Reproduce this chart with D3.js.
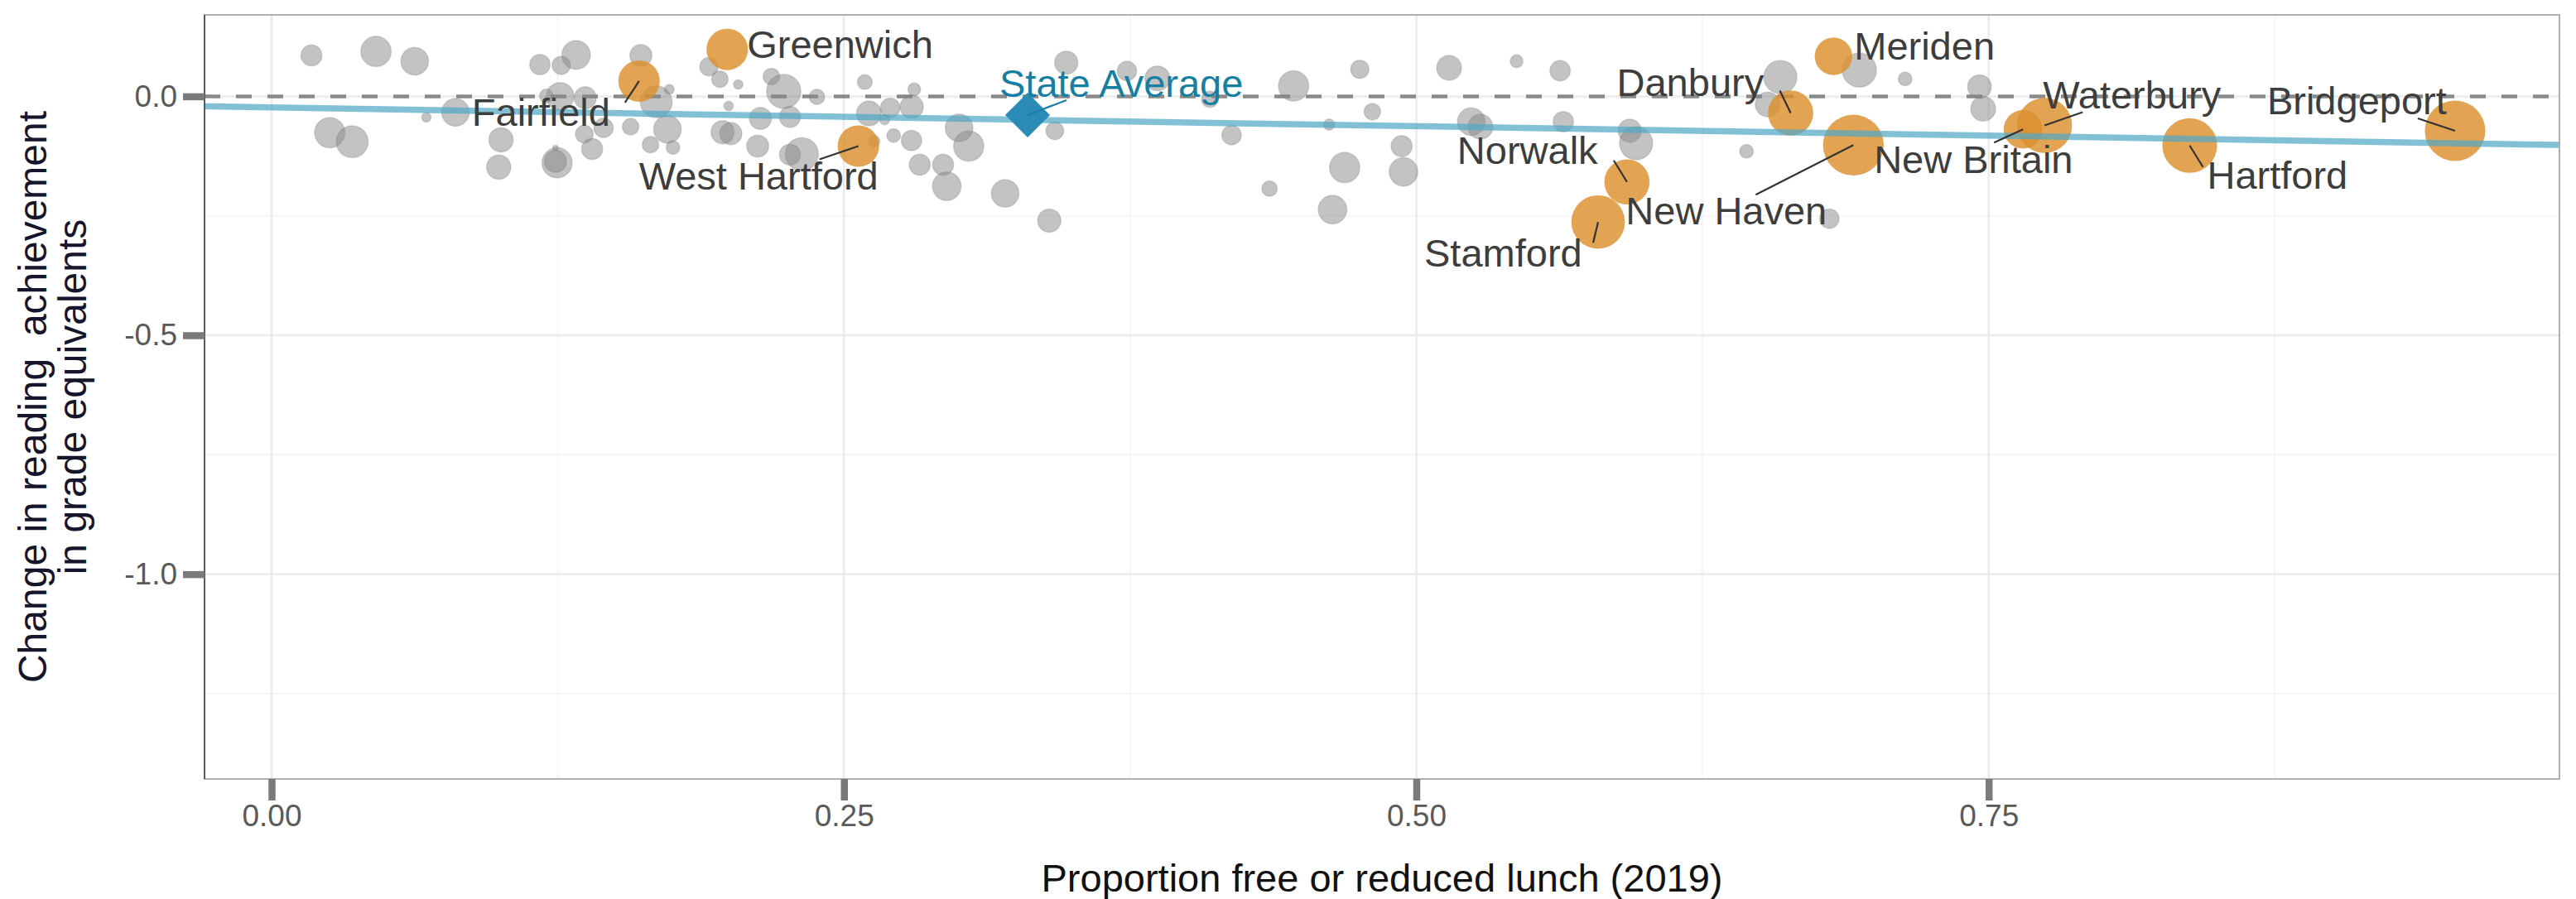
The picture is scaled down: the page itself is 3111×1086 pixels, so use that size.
<!DOCTYPE html>
<html>
<head>
<meta charset="utf-8">
<script src="https://cdn.jsdelivr.net/npm/d3@7"></script>
<style>
  body { margin: 0; background: #fff; }
  svg { display: block; font-family: "Liberation Sans", Arial, sans-serif; }
</style>
</head>
<body>
<script>
// ---- data ----
const xTicks = [0, 0.25, 0.5, 0.75];
const xMinor = [0.125, 0.375, 0.625, 0.875];
const yTicks = [-1.0, -0.5, 0.0];
const yMinor = [-1.25, -0.75, -0.25];

// other districts (grey): proportion FRL, change in reading GE, enrolment size
const grayX = [0.0174, 0.0456, 0.0625, 0.0254, 0.0352, 0.0676, 0.0803, 0.1002, 0.0992, 0.1172,
  0.1265, 0.133, 0.126, 0.120, 0.137, 0.1247, 0.124, 0.124, 0.1366, 0.14,
  0.1613, 0.168, 0.1737, 0.145, 0.1568, 0.1729, 0.1655, 0.1753, 0.191, 0.1958,
  0.2038, 0.1996, 0.197, 0.2006, 0.2135, 0.2123, 0.2183, 0.2237, 0.2264, 0.2316,
  0.2264, 0.2382, 0.2633, 0.2591, 0.2609, 0.2702, 0.2678, 0.2807, 0.2796, 0.2717,
  0.2795, 0.2831, 0.2933, 0.2949, 0.3003, 0.3045, 0.3471, 0.3421, 0.3204, 0.3397,
  0.3736, 0.3869, 0.4098, 0.4193, 0.4464, 0.4619, 0.4359, 0.4687, 0.4634, 0.4753,
  0.5143, 0.5438, 0.5628, 0.4808, 0.4936, 0.4944, 0.524, 0.528, 0.5642, 0.5932,
  0.596, 0.659, 0.6535, 0.6442, 0.6935, 0.7135, 0.746, 0.7476, 0.6804];
const grayY = [0.0856, 0.094, 0.0735, -0.076, -0.095, -0.044, -0.0335, -0.091, -0.148, 0.0665,
  0.065, 0.0867, 0.0, 0.001, -0.003, -0.139, -0.136, -0.108, -0.079, -0.11,
  0.0856, -0.0115, 0.0145, -0.066, -0.0635, -0.069, -0.101, -0.107, 0.062, 0.036,
  0.025, -0.020, -0.075, -0.078, -0.046, -0.104, 0.0416, 0.0104, -0.043, -0.121,
  -0.122, -0.001, -0.0936, 0.030, -0.0357, -0.024, -0.049, 0.0145, -0.022, -0.082,
  -0.0924, -0.143, -0.143, -0.188, -0.066, -0.104, 0.0705, -0.072, -0.203, -0.26,
  0.053, 0.0376, -0.006, -0.081, 0.022, -0.059, -0.193, -0.149, -0.237, 0.0567,
  0.0596, 0.0735, 0.0537, -0.032, -0.104, -0.158, -0.053, -0.0635, -0.053, -0.072,
  -0.098, 0.0405, -0.017, -0.115, 0.055, 0.0364, 0.0203, -0.026, -0.256];
const graySize = [2.42, 5.03, 4.19, 5.03, 5.59, 0.49, 4.19, 3.24, 3.24, 2.27,
  1.82, 4.49, 4.19, 1.03, 2.66, 5.03, 2.66, 0.16, 1.72, 2.42,
  2.66, 5.59, 0.54, 2.06, 1.50, 4.19, 1.50, 1.03, 1.82, 1.50,
  0.49, 0.49, 2.94, 2.66, 2.66, 2.66, 1.50, 6.43, 2.42, 6.01,
  2.42, 1.30, 0.67, 1.22, 3.38, 2.06, 0.54, 0.89, 2.94, 1.03,
  2.27, 2.42, 2.42, 4.49, 4.19, 5.03, 2.94, 1.72, 4.19, 2.94,
  2.06, 3.38, 1.50, 2.06, 5.03, 0.67, 1.30, 5.03, 4.49, 1.82,
  3.38, 0.89, 2.27, 1.50, 2.42, 4.49, 4.19, 3.38, 2.27, 2.94,
  6.01, 6.01, 3.38, 1.03, 6.43, 1.03, 3.07, 3.38, 2.06];

// highlighted districts (orange)
const townNames = ["Fairfield", "Greenwich", "West Hartford", "Norwalk", "Stamford", "New Haven",
  "Danbury", "Meriden", "New Britain", "Waterbury", "Hartford", "Bridgeport"];
const townX = [0.1605, 0.1990, 0.2563, 0.592, 0.5794, 0.6909, 0.6635, 0.6822, 0.765, 0.7744, 0.8378, 0.9537];
const townY = [0.032, 0.0983, -0.104, -0.179, -0.263, -0.102, -0.0347, 0.0839, -0.069, -0.0607, -0.1028, -0.072];
const townSize = [9.4, 9.4, 9.4, 11.2, 15.7, 20.2, 11.2, 7.7, 8.2, 16.6, 16.4, 20.0];

const avgName = "State Average";
const avgX = 0.3302;
const avgY = -0.039;

// fitted line
const trendX = [-0.0293, 0.9993];
const trendY = [-0.0209, -0.1017];

// ---- layout ----
const width = 3111, height = 1086;
const panel = { left: 247, right: 3091, top: 18, bottom: 941 };
const labelFont = 47;

// label placement (pixel offsets from the point): [label dx, label dy, segment dx, segment dy]
const labelLayout = {
  "Fairfield":     [-202, 54, -17, 26],
  "Greenwich":     [24, 10, null, null],
  "West Hartford": [-265, 53, -47, 16],
  "Norwalk":       [-205, -22, -16, -26],
  "Stamford":      [-210, 54, -6, 25],
  "New Haven":     [-275, 96, -118, 60],
  "Danbury":       [-210, -20, -13, -27],
  "Meriden":       [25, 4, null, null],
  "New Britain":   [-180, 53, -35, 16],
  "Waterbury":     [-2, -20, 46, -16],
  "Hartford":      [21, 52, 16, 26],
  "Bridgeport":    [-227, -20, -45, -15],
  "State Average": [-34, -22, 47, -18]
};

const x = d3.scaleLinear().domain([-0.0293, 0.9993]).range([panel.left, panel.right]);
const y = d3.scaleLinear().domain([-1.4286, 0.1705]).range([panel.bottom, panel.top]);
const r = d3.scaleSqrt().domain([0, 20]).range([0, 36.5]);

const svg = d3.select("body").append("svg")
  .attr("width", width)
  .attr("height", height);

// grid
const grid = svg.append("g");
grid.selectAll(".vminor").data(xMinor).enter().append("line")
  .attr("x1", d => x(d)).attr("x2", d => x(d))
  .attr("y1", panel.top).attr("y2", panel.bottom)
  .attr("stroke", "#f3f3f3").attr("stroke-width", 1.5);
grid.selectAll(".hminor").data(yMinor).enter().append("line")
  .attr("x1", panel.left).attr("x2", panel.right)
  .attr("y1", d => y(d)).attr("y2", d => y(d))
  .attr("stroke", "#f3f3f3").attr("stroke-width", 1.5);
grid.selectAll(".vmajor").data(xTicks).enter().append("line")
  .attr("x1", d => x(d)).attr("x2", d => x(d))
  .attr("y1", panel.top).attr("y2", panel.bottom)
  .attr("stroke", "#ebebeb").attr("stroke-width", 2.5);
grid.selectAll(".hmajor").data(yTicks).enter().append("line")
  .attr("x1", panel.left).attr("x2", panel.right)
  .attr("y1", d => y(d)).attr("y2", d => y(d))
  .attr("stroke", "#ebebeb").attr("stroke-width", 2.5);

// zero reference
svg.append("line")
  .attr("x1", panel.left).attr("x2", panel.right)
  .attr("y1", y(0)).attr("y2", y(0))
  .attr("stroke", "#8a8a8a").attr("stroke-width", 4.5)
  .attr("stroke-dasharray", "19,19");

// grey districts
const grayData = grayX.map((d, i) => ({ x: d, y: grayY[i], s: graySize[i] }));
svg.append("g").selectAll("circle").data(grayData).enter().append("circle")
  .attr("cx", d => x(d.x)).attr("cy", d => y(d.y)).attr("r", d => r(d.s))
  .attr("fill", "#888").attr("fill-opacity", 0.5)
  .attr("stroke", "#777").attr("stroke-opacity", 0.25).attr("stroke-width", 1.5);

// highlighted districts
const towns = townNames.map((n, i) => ({ name: n, x: townX[i], y: townY[i], s: townSize[i] }));
svg.append("g").selectAll("circle").data(towns).enter().append("circle")
  .attr("cx", d => x(d.x)).attr("cy", d => y(d.y)).attr("r", d => r(d.s))
  .attr("fill", "#dc8f2c").attr("fill-opacity", 0.82);

// fitted line
const trend = trendX.map((d, i) => [d, trendY[i]]);
svg.append("path")
  .datum(trend)
  .attr("d", d3.line().x(d => x(d[0])).y(d => y(d[1])))
  .attr("fill", "none")
  .attr("stroke", "#52a8c6").attr("stroke-opacity", 0.72)
  .attr("stroke-width", 7.5);

// state average
svg.append("path")
  .attr("d", d3.symbol().type(d3.symbolSquare).size(1460))
  .attr("transform", "translate(" + x(avgX) + "," + y(avgY) + ") rotate(45)")
  .attr("fill", "#2a8bb6");

// segments and labels
const labelled = towns.map(d => ({ name: d.name, px: x(d.x), py: y(d.y), colour: "#3d3d3d" }));
labelled.push({ name: avgName, px: x(avgX), py: y(avgY), colour: "#167ea2" });

svg.append("g").selectAll("line").data(labelled.filter(d => labelLayout[d.name][2] !== null))
  .enter().append("line")
  .attr("x1", d => d.px + labelLayout[d.name][2])
  .attr("y1", d => d.py + labelLayout[d.name][3])
  .attr("x2", d => d.px).attr("y2", d => d.py)
  .attr("stroke", d => d.name === avgName ? "#167ea2" : "#333")
  .attr("stroke-width", 2.2);

svg.append("g").selectAll("text").data(labelled).enter().append("text")
  .attr("x", d => d.px + labelLayout[d.name][0])
  .attr("y", d => d.py + labelLayout[d.name][1])
  .attr("font-size", labelFont)
  .attr("fill", d => d.colour)
  .text(d => d.name);

// panel border
svg.append("rect")
  .attr("x", panel.left).attr("y", panel.top)
  .attr("width", panel.right - panel.left).attr("height", panel.bottom - panel.top)
  .attr("fill", "none").attr("stroke", "#b0b0b0").attr("stroke-width", 2);
svg.append("line")
  .attr("x1", panel.left).attr("x2", panel.left)
  .attr("y1", panel.top).attr("y2", panel.bottom)
  .attr("stroke", "#5a5a5a").attr("stroke-width", 2);

// axes
const minusFix = f => d => f(d).replace("\u2212", "-");

const yAxis = svg.append("g")
  .attr("transform", "translate(" + panel.left + ",0)")
  .call(d3.axisLeft(y).tickValues(yTicks).tickSize(26).tickPadding(7)
    .tickFormat(minusFix(d3.format(".1f"))));

const xAxis = svg.append("g")
  .attr("transform", "translate(0," + panel.bottom + ")")
  .call(d3.axisBottom(x).tickValues(xTicks).tickSize(26).tickPadding(5)
    .tickFormat(d3.format(".2f")));

[xAxis, yAxis].forEach(g => {
  g.select(".domain").remove();
  g.selectAll(".tick line").attr("stroke", "#7a7a7a").attr("stroke-width", 8.5);
  g.selectAll(".tick text")
    .attr("fill", "#5a5a5a")
    .attr("font-size", 37)
    .attr("font-family", "\"Liberation Sans\", Arial, sans-serif");
});

// axis titles
svg.append("text")
  .attr("x", (panel.left + panel.right) / 2)
  .attr("y", 1077)
  .attr("text-anchor", "middle")
  .attr("font-size", 47)
  .attr("fill", "#111")
  .text("Proportion free or reduced lunch (2019)");

const yTitle = svg.append("text")
  .attr("transform", "translate(0," + ((panel.top + panel.bottom) / 2) + ") rotate(-90)")
  .attr("text-anchor", "middle")
  .attr("font-size", 48)
  .attr("fill", "#15152e");
yTitle.append("tspan").attr("x", 0).attr("y", 56).attr("xml:space", "preserve")
  .text("Change in reading\u00a0 achievement");
yTitle.append("tspan").attr("x", 0).attr("y", 104).text("in grade equivalents");
</script>
</body>
</html>
